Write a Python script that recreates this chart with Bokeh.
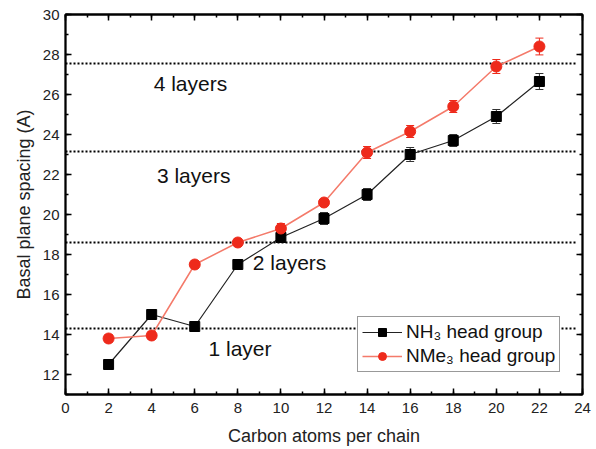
from bokeh.plotting import figure
from bokeh.models import (Range1d, LinearAxis, SingleIntervalTicker, Whisker, TeeHead,
                          ColumnDataSource, Legend, LegendItem, Label, CustomJSTickFormatter)
from bokeh.embed import file_html
from bokeh.resources import INLINE

carbons = [2, 4, 6, 8, 10, 12, 14, 16, 18, 20, 22]
nh3 = [12.5, 15.0, 14.4, 17.5, 18.85, 19.8, 21.0, 23.0, 23.7, 24.9, 26.65]
nh3_err = [0.15, 0.2, 0.2, 0.25, 0.25, 0.3, 0.3, 0.35, 0.3, 0.35, 0.4]
nme3 = [13.8, 13.95, 17.5, 18.6, 19.3, 20.6, 23.1, 24.15, 25.4, 27.4, 28.4]
nme3_err = [0.2, 0.2, 0.2, 0.2, 0.25, 0.2, 0.3, 0.3, 0.3, 0.35, 0.42]
layer_levels = [14.3, 18.6, 23.15, 27.55]
layer_names = ["1 layer", "2 layers", "3 layers", "4 layers"]
layer_label_x = [8.1, 10.4, 5.95, 5.8]
layer_label_y = [13.3, 17.6, 21.95, 26.55]

FONT = "Liberation Sans"
RED = "#ee2a1b"
RED_LINE = "#f47a6a"

p = figure(width=596, height=449, output_backend="svg", toolbar_location=None,
           x_range=Range1d(0, 24), y_range=Range1d(11, 30),
           min_border_left=65, min_border_right=14, min_border_top=14, min_border_bottom=55,
           x_axis_location=None, y_axis_location=None)
p.background_fill_color = "white"
p.border_fill_color = "white"
p.xgrid.visible = False
p.ygrid.visible = False
p.outline_line_color = "black"
p.outline_line_width = 1.8


def style_axis(ax, labels=True):
    ax.axis_line_color = "black"
    ax.axis_line_width = 1.8
    ax.major_tick_in = 6
    ax.major_tick_out = 0
    ax.minor_tick_in = 3
    ax.minor_tick_out = 0
    ax.major_tick_line_width = 1.5
    ax.minor_tick_line_width = 1.5
    ax.major_label_text_font = FONT
    ax.major_label_text_font_size = "15px"
    ax.major_label_text_color = "#222222"
    ax.axis_label_text_font = FONT
    ax.axis_label_text_font_size = "18px"
    ax.axis_label_text_font_style = "normal"
    ax.axis_label_text_color = "#222222"
    if not labels:
        ax.formatter = CustomJSTickFormatter(code="return ''")
        ax.major_label_standoff = 0


xb = LinearAxis(ticker=SingleIntervalTicker(interval=2, num_minor_ticks=2),
                axis_label="Carbon atoms per chain")
style_axis(xb)
xb.major_label_standoff = 8
xb.axis_label_standoff = 10
p.add_layout(xb, "below")

yl = LinearAxis(ticker=SingleIntervalTicker(interval=2, num_minor_ticks=2),
                axis_label="Basal plane spacing (A)")
style_axis(yl)
yl.major_label_standoff = 6
yl.axis_label_standoff = 6
p.add_layout(yl, "left")

xt = LinearAxis(ticker=SingleIntervalTicker(interval=2, num_minor_ticks=2))
style_axis(xt, labels=False)
p.add_layout(xt, "above")

yr = LinearAxis(ticker=SingleIntervalTicker(interval=2, num_minor_ticks=2))
style_axis(yr, labels=False)
p.add_layout(yr, "right")

# dotted layer lines
p.segment(x0=[0] * len(layer_levels), x1=[23.7] * len(layer_levels),
          y0=layer_levels, y1=layer_levels, line_color="black",
          line_width=2.2, line_dash="2 2")

for name, lx, ly in zip(layer_names, layer_label_x, layer_label_y):
    p.add_layout(Label(x=lx, y=ly, text=name, text_font=FONT, text_font_size="21px",
                       text_align="center", text_baseline="middle", text_color="#111111"))

src1 = ColumnDataSource(dict(x=carbons, y=nh3,
                             lo=[v - e for v, e in zip(nh3, nh3_err)],
                             hi=[v + e for v, e in zip(nh3, nh3_err)]))
src2 = ColumnDataSource(dict(x=carbons, y=nme3,
                             lo=[v - e for v, e in zip(nme3, nme3_err)],
                             hi=[v + e for v, e in zip(nme3, nme3_err)]))

w1 = Whisker(source=src1, base="x", lower="lo", upper="hi", line_color="#333333", line_width=1,
             upper_head=TeeHead(size=8, line_color="#333333"),
             lower_head=TeeHead(size=8, line_color="#333333"))
w2 = Whisker(source=src2, base="x", lower="lo", upper="hi", line_color=RED, line_width=1,
             upper_head=TeeHead(size=8, line_color=RED),
             lower_head=TeeHead(size=8, line_color=RED))
p.add_layout(w1)
p.add_layout(w2)

l1 = p.line("x", "y", source=src1, line_color="#222222", line_width=1.2)
m1 = p.scatter("x", "y", source=src1, marker="square", size=10, fill_color="black",
               line_color="black")
l2 = p.line("x", "y", source=src2, line_color=RED_LINE, line_width=1.5)
m2 = p.scatter("x", "y", source=src2, marker="circle", size=11, fill_color=RED,
               line_color=RED)

legend = Legend(items=[LegendItem(label="NH\u2083 head group", renderers=[l1, m1]),
                       LegendItem(label="NMe\u2083 head group", renderers=[l2, m2])],
                location=(292, 22))
legend.label_text_font = FONT
legend.label_text_font_size = "19px"
legend.label_text_color = "#111111"
legend.border_line_color = "#333333"
legend.border_line_width = 1
legend.background_fill_color = "white"
legend.background_fill_alpha = 1
legend.glyph_width = 40
legend.label_standoff = 4
legend.padding = 4
legend.spacing = 2
legend.margin = 0
p.add_layout(legend, "center")

open("out.html", "w").write(file_html(p, INLINE))
